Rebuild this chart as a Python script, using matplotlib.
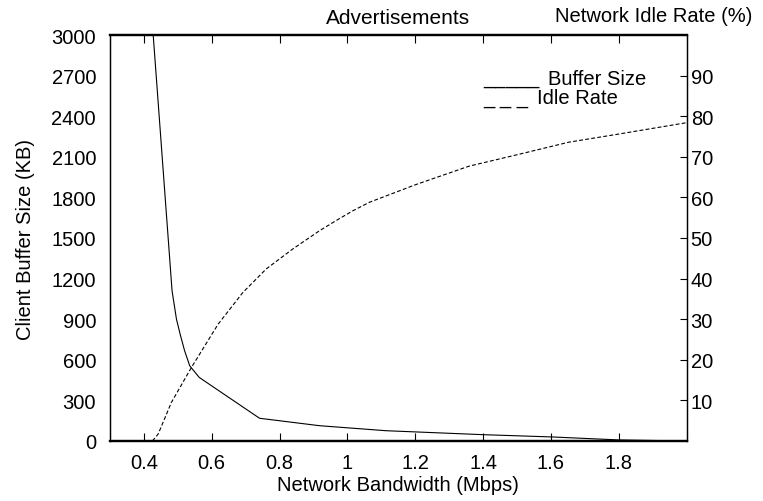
import matplotlib.pyplot as plt
import numpy as np

plt.rcParams['font.family'] = ['Liberation Sans', 'DejaVu Sans']
plt.rcParams['font.size'] = 14.5

# buffer size (KB) vs bandwidth (Mbps)
bw_buf = [0.42, 0.483, 0.496, 0.508, 0.52, 0.535, 0.563, 0.741, 0.918, 1.114, 1.398, 1.603, 1.8, 2.0]
buf = [3250, 1110, 900, 778, 667, 556, 470, 168, 113, 76, 47, 30, 8, 0]

# network idle rate (%) vs bandwidth
bw_idle = [0.425, 0.442, 0.481, 0.54, 0.619, 0.692, 0.761, 0.839, 0.918, 0.967,
           1.016, 1.065, 1.2, 1.359, 1.5, 1.653, 1.8, 2.0]
idle = [0, 1.7, 9.5, 18.1, 28.8, 36.6, 42.4, 47.3, 51.8, 54.3,
        56.7, 58.8, 63.1, 67.7, 70.5, 73.6, 75.6, 78.4]

fig = plt.figure(figsize=(7.63, 5.02), dpi=100)
ax = fig.add_axes([110/763, 1-442/502, (686.5-110)/763, (442-36)/502])
ax2 = ax.twinx()

ax.plot(bw_buf, buf, color='black', lw=0.8)
ax2.plot(bw_idle, idle, color='black', lw=0.8, dashes=(3.5, 2))

ax.set_xlim(0.3, 2.0)
ax.set_ylim(0, 3000)
ax2.set_ylim(0, 100)
ax.set_xticks([0.4, 0.6, 0.8, 1.0, 1.2, 1.4, 1.6, 1.8])
ax.set_xticklabels(['0.4', '0.6', '0.8', '1', '1.2', '1.4', '1.6', '1.8'])
ax.set_yticks(np.arange(0, 3001, 300))
ax2.set_yticks(np.arange(10, 91, 10))

ax.tick_params(axis='x', direction='in', length=6, width=0.8, top=True, pad=9)
ax.tick_params(axis='y', length=0, pad=10)
ax2.tick_params(axis='y', direction='in', length=5, width=0.8, pad=3)

for a in (ax, ax2):
    a.spines['top'].set_linewidth(1.6)
    a.spines['bottom'].set_linewidth(1.6)
    a.spines['left'].set_linewidth(0.9)
    a.spines['right'].set_linewidth(0.9)

ax.set_xlabel('Network Bandwidth (Mbps)', labelpad=2)
ax.set_ylabel('Client Buffer Size (KB)', labelpad=12)
ax.set_title('Advertisements', pad=9, fontsize=15)
fig.text(752/763, 1-17/502, 'Network Idle Rate (%)', ha='right', va='center')

# key drawn as text
fig.text(483/763, 1-84/502, '_____', ha='left', va='baseline')
fig.text(548/763, 1-85/502, 'Buffer Size', ha='left', va='baseline')
fig.text(483/763, 1-104/502, '_ _ _', ha='left', va='baseline')
fig.text(537/763, 1-104/502, 'Idle Rate', ha='left', va='baseline')

fig.savefig('out.png', dpi=100)
